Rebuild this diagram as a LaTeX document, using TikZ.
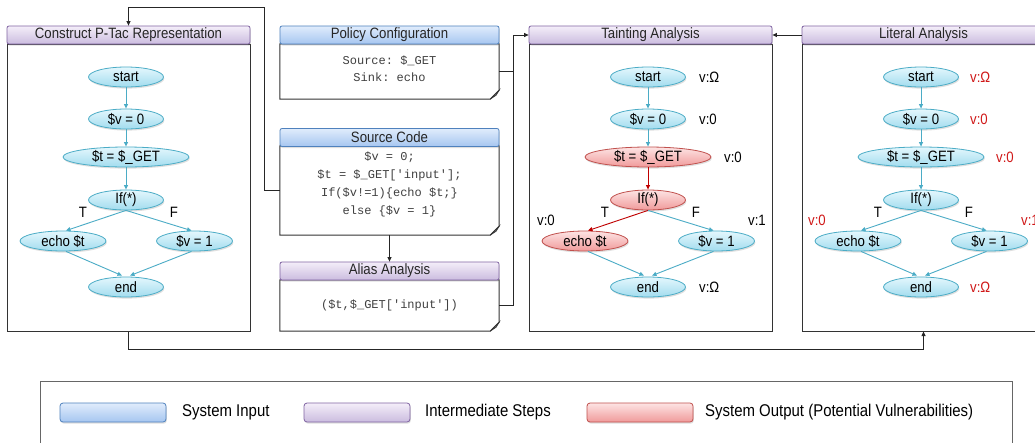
\documentclass[tikz,border=0pt]{standalone}
\usepackage{fontspec}
\setmainfont{Liberation Sans}[FakeStretch=0.88]
\setmonofont{Liberation Mono}
\usetikzlibrary{shapes.geometric,arrows.meta,shadows,calc}

\definecolor{cyanborder}{HTML}{4BACC6}
\definecolor{cyantop}{HTML}{E4F7FD}
\definecolor{cyanbot}{HTML}{A2DCEE}
\definecolor{redborder}{HTML}{C0504D}
\definecolor{redtop}{HTML}{FDE4E4}
\definecolor{redbot}{HTML}{F09A9A}
\definecolor{purpborder}{HTML}{8064A2}
\definecolor{purptop}{HTML}{F4EEF9}
\definecolor{purpbot}{HTML}{CBBCDF}
\definecolor{bluborder}{HTML}{4F81BD}
\definecolor{blutop}{HTML}{E0ECFC}
\definecolor{blubot}{HTML}{A6C6F0}
\definecolor{flowred}{HTML}{C00000}
\definecolor{annred}{HTML}{D01818}
\definecolor{boxline}{HTML}{333333}
\definecolor{codegray}{HTML}{404040}

\newcommand\nodefont{\fontsize{15}{17}\selectfont}
\newcommand\legfont{\fontsize{17}{19}\selectfont}

\tikzset{
  softshadow/.style={drop shadow={shadow xshift=0.8pt,shadow yshift=-1.6pt,opacity=0.25}},
  cfg/.style={ellipse, draw=cyanborder, line width=0.8pt, top color=cyantop,
    bottom color=cyanbot, minimum width=75pt, minimum height=20pt, inner sep=0pt,
    font=\nodefont, softshadow},
  hot/.style={cfg, draw=redborder, top color=redtop, bottom color=redbot},
  flow/.style={draw=cyanborder, line width=0.9pt, -{Triangle[length=4.5pt,width=4pt]}},
  hotflow/.style={flow, draw=flowred},
  branch/.style={font=\nodefont, inner sep=0pt},
  ann/.style={font=\nodefont, inner sep=0pt, anchor=west},
  redann/.style={ann, text=annred},
  panel/.style={draw=boxline, line width=1pt, fill=white, inner sep=0pt},
  titlebar/.style={draw=#1border, line width=0.8pt, rounded corners=2pt,
    top color=#1top, bottom color=#1bot, font=\nodefont, text=black!85,
    inner sep=0pt, minimum height=18pt, softshadow},
  docarea/.style={inner sep=0pt, minimum width=219pt},
  codetext/.style={font=\fontsize{12}{18}\selectfont\ttfamily, text=codegray,
    align=center, inner sep=0pt},
  conn/.style={draw=black!85, line width=0.8pt, -{Triangle[length=4.5pt,width=4pt]}},
  swatch/.style={draw=#1border, line width=0.8pt, rounded corners=3pt,
    top color=#1top, bottom color=#1bot, minimum width=106pt, minimum height=19pt,
    inner sep=0pt, softshadow},
  legtext/.style={font=\legfont, anchor=west, inner sep=0pt},
}

% control-flow graph of the sample program, drawn inside a shifted scope
% #1 style of $t = $_GET, #2 style of If(*), #3 style of echo $t,
% #4 edge style $_GET -> If, #5 edge style If -> echo
\newcommand\flowgraph[5]{%
  \node[cfg] (start) at (119,77) {start};
  \node[cfg] (vzero) at (119,119) {\$v = 0};
  \node[#1, minimum width=126pt] (tget) at (119,157) {\$t = \$\_GET};
  \node[#2] (cond) at (119,200) {If(*)};
  \node[#3, minimum width=86pt] (echo) at (56,241) {echo \$t};
  \node[cfg, minimum width=76pt] (vone) at (187.5,241) {\$v = 1};
  \node[cfg] (end) at (119,287) {end};
  \node[branch] (tlab) at (76,212) {T};
  \node[branch] (flab) at (167,212) {F};
  \draw[flow] (start) -- (vzero);
  \draw[flow] (vzero) -- (tget);
  \draw[#4] (tget) -- (cond);
  \draw[#5] (cond.south) -- ([xshift=3pt]echo.north);
  \draw[flow] (cond.south) -- ([xshift=-3pt]vone.north);
  \draw[flow] ([xshift=3pt]echo.south) -- ([xshift=-4pt,yshift=1pt]end.north);
  \draw[flow] ([xshift=-3pt]vone.south) -- ([xshift=4pt,yshift=1pt]end.north);
}

% page outline with a folded bottom-right corner around a named area
\newcommand\docpage[1]{%
  \draw[draw=boxline, line width=1pt, fill=white]
    (#1.north west) -- (#1.north east) -- ([yshift=9pt]#1.south east)
    -- ([xshift=-9pt]#1.south east) -- (#1.south west) -- cycle;
  \filldraw[draw=boxline, fill=black!45, line width=0.6pt]
    ([xshift=-9pt]#1.south east) -- ([yshift=9pt]#1.south east)
    -- ([xshift=-3pt,yshift=4pt]#1.south east) -- cycle;
}

\begin{document}
\begin{tikzpicture}[x=1pt,y=-1pt]
\clip (0,0) rectangle (1035,442);
\fill[white] (0,0) rectangle (1035,442);

% ---- panel 1: P-Tac representation
\node[panel, minimum width=243pt, minimum height=287pt] (ptacbody) at (128.5,187.5) {};
\node[titlebar=purp, minimum width=243pt] (ptac) at (128.5,35) {Construct P-Tac Representation};
\begin{scope}[shift={(7,0)}, name prefix=pt-]
  \flowgraph{cfg}{cfg}{cfg}{flow}{flow}
\end{scope}

% ---- middle column: inputs and alias analysis
\node[docarea, minimum height=55pt] (polbody) at (389.5,71.5) {};
\docpage{polbody}
\node[titlebar=blu, minimum width=219pt] (policy) at (389.5,35) {Policy Configuration};
\node[codetext, font=\fontsize{12}{17}\selectfont\ttfamily] (poltext) at (389.5,69) {Source: \$\_GET\\Sink: echo};

\node[docarea, minimum height=89pt] (srcbody) at (389.5,190.5) {};
\docpage{srcbody}
\node[titlebar=blu, minimum width=219pt] (source) at (389.5,137.5) {Source Code};
\node[codetext] (srctext) at (389.5,184) {\$v = 0;\\\$t = \$\_GET['input'];\\If(\$v!=1)\{echo \$t;\}\\else \{\$v = 1\}};

\node[docarea, minimum height=51pt] (alibody) at (389.5,305.5) {};
\docpage{alibody}
\node[titlebar=purp, minimum width=219pt] (alias) at (389.5,271) {Alias Analysis};
\node[codetext] (alitext) at (389.5,305) {(\$t,\$\_GET['input'])};

% ---- panel 3: tainting analysis
\node[panel, minimum width=243pt, minimum height=287pt] (taintbody) at (650.5,187.5) {};
\node[titlebar=purp, minimum width=243pt] (taint) at (650.5,35) {Tainting Analysis};
\begin{scope}[shift={(529,0)}, name prefix=ta-]
  \flowgraph{hot}{hot}{hot}{hotflow}{hotflow}
  \node[ann] (a1) at (170,77) {v:Ω};
  \node[ann] (a2) at (170,119) {v:0};
  \node[ann] (a3) at (195,157) {v:0};
  \node[ann] (a4) at (8,220) {v:0};
  \node[ann] (a5) at (219,220) {v:1};
  \node[ann] (a6) at (170,287) {v:Ω};
\end{scope}

% ---- panel 4: literal analysis
\node[panel, minimum width=243pt, minimum height=287pt] (litbody) at (923.5,187.5) {};
\node[titlebar=purp, minimum width=243pt] (lit) at (923.5,35) {Literal Analysis};
\begin{scope}[shift={(802,0)}, name prefix=li-]
  \flowgraph{cfg}{cfg}{cfg}{flow}{flow}
  \node[redann] (b1) at (168,77) {v:Ω};
  \node[redann] (b2) at (168,119) {v:0};
  \node[redann] (b3) at (194,157) {v:0};
  \node[redann] (b4) at (6,220) {v:0};
  \node[redann] (b5) at (219,220) {v:1};
  \node[redann] (b6) at (168,287) {v:Ω};
\end{scope}

% ---- connectors between stages
\coordinate (topturn) at (128.5,7);
\draw[conn] (srcbody.west) -- ++(-15,0) |- (topturn) -- (ptac.north);
\draw[conn] (polbody.east) -- ++(14,0) |- (taint.west);
\draw[draw=black!85, line width=0.8pt] (alibody.east) -- ++(14,0) -- ($(polbody.east)+(14,0)$);
\draw[conn] (srcbody.south) -- (alias.north);
\draw[conn] (lit.west) -- (taint.east);
\draw[conn] (ptacbody.south) -- ++(0,18) -| (litbody.south);

% ---- legend
\node[draw=black!60, line width=1pt, minimum width=972pt, minimum height=80pt, inner sep=0pt] (legend) at (526,421) {};
\node[swatch=blu] (swin) at (113,412.5) {};
\node[legtext] (lgin) at (182,412.5) {System Input};
\node[swatch=purp] (swmid) at (357,412.5) {};
\node[legtext] (lgmid) at (425,412.5) {Intermediate Steps};
\node[swatch=red] (swout) at (640,412.5) {};
\node[legtext] (lgout) at (705,412.5) {System Output (Potential Vulnerabilities)};
\end{tikzpicture}
\end{document}
